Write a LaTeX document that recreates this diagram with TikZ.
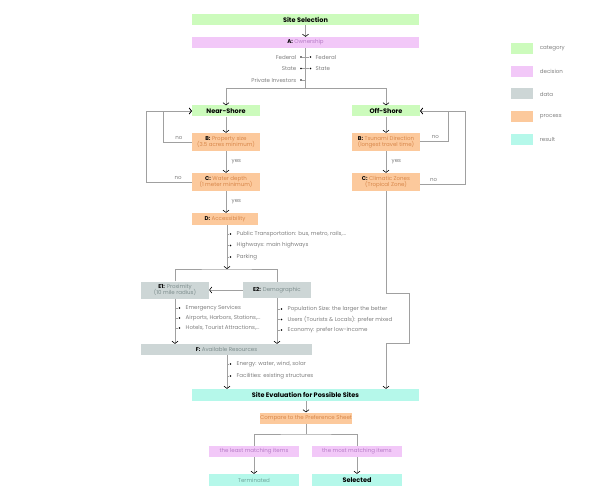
\documentclass[tikz,border=0pt]{standalone}
\usepackage{fontspec}
\setmainfont{Poppins}
\usetikzlibrary{arrows.meta}
\definecolor{catcol}{HTML}{CCFBBC}
\definecolor{deccol}{HTML}{F2C8F8}
\definecolor{datcol}{HTML}{CDD6D6}
\definecolor{proccol}{HTML}{FCC99C}
\definecolor{rescol}{HTML}{B5F8EA}
\definecolor{dectxt}{HTML}{B67CC6}
\definecolor{dattxt}{HTML}{7E8E8E}
\definecolor{proctxt}{HTML}{D8874A}
\definecolor{restxt}{HTML}{6FA59C}
\definecolor{txtgray}{HTML}{7E7E7E}
\definecolor{linegray}{HTML}{A0A0A0}
\newcommand{\lettr}[1]{{\bfseries\color{black}#1}}

\begin{document}
\begin{tikzpicture}[x=1pt, y=-1pt, font=\fontsize{5.5}{6.6}\selectfont,
  box/.style = {inner sep=0pt, minimum height=11pt, align=center},
  cat/.style = {box, fill=catcol, font=\fontsize{6.5}{7.5}\selectfont\bfseries},
  dec/.style = {box, fill=deccol, text=dectxt},
  dat/.style = {box, fill=datcol, text=dattxt},
  proc/.style = {box, fill=proccol, text=proctxt},
  res/.style = {box, fill=rescol, text=restxt},
  wire/.style = {draw=linegray, line width=0.4pt},
  arr/.style = {wire, -{Straight Barb[length=2.2pt,width=6pt,line width=0.6pt,color=black]}},
  note/.style = {text=txtgray, inner sep=0.5pt},
  dot/.style = {circle, fill=black, inner sep=0pt, minimum size=1.8pt}]
\useasboundingbox (0,0) rectangle (600,500);

% selection and ownership
\node[cat, minimum width=227pt] (sel) at (305.5,19.5) {Site Selection};
\node[dec, minimum width=227pt] (own) at (305.5,42.5) {\lettr{A:} Ownership};
\draw[arr] (sel) -- (own);
\node[note, anchor=east] (fedl) at (297,57) {Federal};
\node[note, anchor=east] (stal) at (297,68.5) {State};
\node[note, anchor=east] (pril) at (297,80) {Private Investors};
\node[note, anchor=west] (fedr) at (315,57) {Federal};
\node[note, anchor=west] (star) at (315,68.5) {State};
\node[dot] (fedld) at (301,57) {};
\node[dot] (fedrd) at (310.5,57) {};
\node[dot] (stald) at (301,68.5) {};
\node[dot] (stard) at (310.5,68.5) {};
\node[dot] (prild) at (301,80) {};
\coordinate (split) at (305.5,88);
\draw[wire] (own) -- (split);
\draw[wire] (fedld) -- (fedrd);
\draw[wire] (stald) -- (stard);
\draw[wire] (prild) -- (prild -| split);

% near-shore branch
\node[cat, minimum width=68pt] (near) at (226,111) {Near-Shore};
\node[proc, minimum width=68pt, minimum height=18pt] (bnear) at (226,142) {\lettr{B:} Property size\\(3.5 acres minimum)};
\node[proc, minimum width=68pt, minimum height=18pt] (cnear) at (226,182) {\lettr{C:} Water depth\\(1 meter minimum)};
\node[proc, minimum width=66pt, minimum height=12pt] (dnear) at (225,219) {\lettr{D:} Accessibility};
\draw[arr] (split) -| (near);
\draw[arr] (near) -- (bnear);
\draw[arr] (bnear) -- node[note, right=5pt] {yes} (cnear);
\draw[arr] (cnear.south -| near) -- node[note, right=5pt] {yes} (dnear.north -| near);
\coordinate (nob) at (163,142);
\coordinate (noc) at (146,182);
\draw[arr] (bnear.west) -- node[note, above=2pt, pos=0.45] {no} (nob) |- (near.west);
\draw[arr] (cnear.west) -- node[note, above=2pt, pos=0.3] {no} (noc) |- (near.west);

% off-shore branch
\node[cat, minimum width=68pt] (off) at (386,111) {Off-Shore};
\node[proc, minimum width=68pt, minimum height=18pt] (boff) at (386,142) {\lettr{B:} Tsunami Direction\\(longest travel time)};
\node[proc, minimum width=68pt, minimum height=18pt] (coff) at (386,182) {\lettr{C:} Climatic Zones\\(Tropical Zone)};
\draw[arr] (split) -| (off);
\draw[arr] (off) -- (boff);
\draw[arr] (boff) -- node[note, right=5pt] {yes} (coff);
\coordinate (noob) at (448,141);
\coordinate (nooc) at (465,184);
\draw[arr] (boff.east |- noob) -- node[note, above=2pt, pos=0.55] {no} (noob) |- (off.east);
\draw[arr] (coff.east |- nooc) -- node[note, above=2pt, pos=0.3] {no} (nooc) |- (off.east);

% accessibility items
\coordinate (dline) at (227,225);
\coordinate (esplit) at (227,269);
\draw[arr] (dline) -- (esplit);
\node[dot] (d1) at (230.5,234) {};
\node[dot] (d2) at (230.5,245.5) {};
\node[dot] (d3) at (230.5,257) {};
\node[note, anchor=west] at (236,234) {Public Transportation: bus, metro, rails,...};
\node[note, anchor=west] at (236,245.5) {Highways: main highways};
\node[note, anchor=west] at (236,257) {Parking};
\draw[wire] (d1) -- (d1 -| dline);
\draw[wire] (d2) -- (d2 -| dline);
\draw[wire] (d3) -- (d3 -| dline);

% proximity and demographic
\node[dat, minimum width=68pt, minimum height=17pt] (eone) at (175,290) {\lettr{E1:} Proximity\\(10 mile radius)};
\node[dat, minimum width=68pt, minimum height=16pt] (etwo) at (277,290) {\lettr{E2:} Demographic};
\draw[wire] (eone.north) |- (esplit) -| (etwo.north);
\draw[arr, {Straight Barb[length=2.2pt,width=6pt,line width=0.6pt,color=black]}-] (eone) -- (etwo);
\node[dat, minimum width=171pt] (avail) at (226.5,349.5) {\lettr{F:} Available Resources};
\draw[arr] (eone) -- (eone |- avail.north);
\draw[arr] (etwo) -- (etwo |- avail.north);
\node[dot] (e1) at (179.5,308) {};
\node[dot] (e2) at (179.5,318) {};
\node[dot] (e3) at (179.5,328) {};
\node[note, anchor=west] at (185,308) {Emergency Services};
\node[note, anchor=west] at (185,318) {Airports, Harbors, Stations,...};
\node[note, anchor=west] at (185,328) {Hotels, Tourist Attractions,...};
\draw[wire] (e1) -- (e1 -| eone);
\draw[wire] (e2) -- (e2 -| eone);
\draw[wire] (e3) -- (e3 -| eone);
\node[dot] (g1) at (281.5,309) {};
\node[dot] (g2) at (281.5,319.5) {};
\node[dot] (g3) at (281.5,330) {};
\node[note, anchor=west] at (287,309) {Population Size: the larger the better};
\node[note, anchor=west] at (287,319.5) {Users (Tourists \& Locals): prefer mixed};
\node[note, anchor=west] at (287,330) {Economy: prefer low-income};
\draw[wire] (g1) -- (g1 -| etwo);
\draw[wire] (g2) -- (g2 -| etwo);
\draw[wire] (g3) -- (g3 -| etwo);

% evaluation
\node[res, minimum width=227pt, minimum height=12pt, text=black, font=\fontsize{6.5}{7.5}\selectfont\bfseries] (eval) at (305.5,395) {Site Evaluation for Possible Sites};
\coordinate (fline) at (227,355);
\draw[arr] (fline) -- (fline |- eval.north);
\node[dot] (f1) at (230.5,364) {};
\node[dot] (f2) at (230.5,376) {};
\node[note, anchor=west] at (236,364) {Energy: water, wind, solar};
\node[note, anchor=west] at (236,376) {Facilities: existing structures};
\draw[wire] (f1) -- (f1 -| fline);
\draw[wire] (f2) -- (f2 -| fline);
\coordinate (jog1) at (386,293);
\coordinate (jog2) at (409,343);
\draw[arr] (coff) -- (jog1) -| (jog2) -| (eval.north -| coff);

% comparison and result
\node[proc, minimum width=92pt] (cmp) at (306,418) {Compare to the Preference Sheet};
\draw[arr] (eval.south -| cmp) -- (cmp);
\node[dec, minimum width=90pt] (least) at (254,451.5) {the least matching items};
\node[dec, minimum width=90pt] (most) at (357,451.5) {the most matching items};
\node[res, minimum width=90pt, minimum height=12pt] (term) at (254,480) {Terminated};
\node[res, minimum width=90pt, minimum height=12pt, text=black, font=\fontsize{6.5}{7.5}\selectfont\bfseries] (chosen) at (357,480) {Selected};
\coordinate (csplit) at (306,434);
\draw[wire] (cmp) -- (csplit);
\draw[wire] (least.north) |- (csplit) -| (most.north);
\draw[arr] (least) -- (term);
\draw[arr] (most) -- (chosen);

% legend
\node[box, fill=catcol, minimum width=22pt] (kcat) at (522,48.5) {};
\node[box, fill=deccol, minimum width=22pt] (kdec) at (522,71.5) {};
\node[box, fill=datcol, minimum width=22pt] (kdat) at (522,94) {};
\node[box, fill=proccol, minimum width=22pt] (kproc) at (522,116.5) {};
\node[box, fill=rescol, minimum width=22pt] (kres) at (522,139.5) {};
\node[note, right=6pt] at (kcat.east) {category};
\node[note, right=6pt] at (kdec.east) {decision};
\node[note, right=6pt] at (kdat.east) {data};
\node[note, right=6pt] at (kproc.east) {process};
\node[note, right=6pt] at (kres.east) {result};
\end{tikzpicture}
\end{document}
